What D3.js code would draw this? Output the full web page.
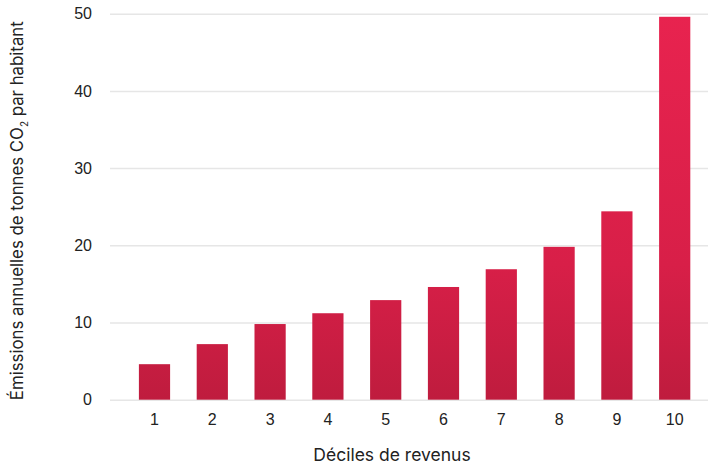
<!DOCTYPE html>
<html>
<head>
<meta charset="utf-8">
<script src="https://cdn.jsdelivr.net/npm/d3@7"></script>
<style>
  html, body { margin: 0; padding: 0; background: #fff; }
  svg { display: block; font-family: Inter, "Noto Sans", sans-serif; }
</style>
</head>
<body>
<svg id="chart" width="708" height="464"></svg>
<script>
// Income deciles and yearly CO2 emissions per inhabitant (tonnes)
const deciles = ["1", "2", "3", "4", "5", "6", "7", "8", "9", "10"];
const emissions = [4.6, 7.2, 9.8, 11.2, 12.9, 14.6, 16.9, 19.8, 24.4, 49.6];
const yTicks = [0, 10, 20, 30, 40, 50];

const svg = d3.select("#chart");
const W = 708, H = 464;
const margin = { left: 110, right: 0, top: 13.7, bottom: 64.3 };

const x = d3.scaleBand()
  .domain(deciles)
  .range([125.6, 703.6])
  .paddingInner(0.46)
  .paddingOuter(0.23);

const y = d3.scaleLinear()
  .domain([0, 50])
  .range([H - margin.bottom, margin.top]);

// Vertical gradient shared by all bars, spanning the plot height
const defs = svg.append("defs");
const grad = defs.append("linearGradient")
  .attr("id", "barGrad")
  .attr("gradientUnits", "userSpaceOnUse")
  .attr("x1", 0).attr("x2", 0)
  .attr("y1", y(0)).attr("y2", y(50));
grad.append("stop").attr("offset", "0%").attr("stop-color", "#bf1c3e");
grad.append("stop").attr("offset", "35%").attr("stop-color", "#d81f48");
grad.append("stop").attr("offset", "100%").attr("stop-color", "#e8234f");

// Horizontal gridlines + y tick labels
const yAxis = d3.axisLeft(y)
  .tickValues(yTicks)
  .tickSize(-(W - margin.left))
  .tickPadding(18);

const gy = svg.append("g")
  .attr("transform", `translate(${margin.left},0)`)
  .call(yAxis);
gy.select(".domain").remove();
gy.selectAll(".tick line").attr("stroke", "#e6e6e6").attr("stroke-width", 1.5);
gy.selectAll(".tick text")
  .attr("fill", "#222")
  .style("font-size", "16px");

// Bars
svg.append("g")
  .selectAll("rect")
  .data(emissions)
  .join("rect")
  .attr("x", (d, i) => x(deciles[i]))
  .attr("width", x.bandwidth())
  .attr("y", d => y(d))
  .attr("height", d => y(0) - y(d))
  .attr("fill", "url(#barGrad)");

// X tick labels
const xAxis = d3.axisBottom(x).tickSize(0).tickPadding(14);
const gx = svg.append("g")
  .attr("transform", `translate(0,${y(0)})`)
  .call(xAxis);
gx.select(".domain").remove();
gx.selectAll(".tick text")
  .attr("fill", "#222")
  .style("font-size", "16px");

// Axis titles
svg.append("text")
  .attr("x", 392)
  .attr("y", 461)
  .attr("text-anchor", "middle")
  .attr("fill", "#222")
  .style("font-size", "17.5px")
  .text("Déciles de revenus");

const yTitle = svg.append("text")
  .attr("transform", `translate(23,${(y(0) + y(50)) / 2 + 4}) rotate(-90)`)
  .attr("text-anchor", "middle")
  .attr("fill", "#222")
  .style("font-size", "16.8px");
yTitle.append("tspan").text("Émissions annuelles de tonnes CO");
yTitle.append("tspan").attr("dy", 5).style("font-size", "10px").text("2");
yTitle.append("tspan").attr("dy", -5).text(" par habitant");
</script>
</body>
</html>
